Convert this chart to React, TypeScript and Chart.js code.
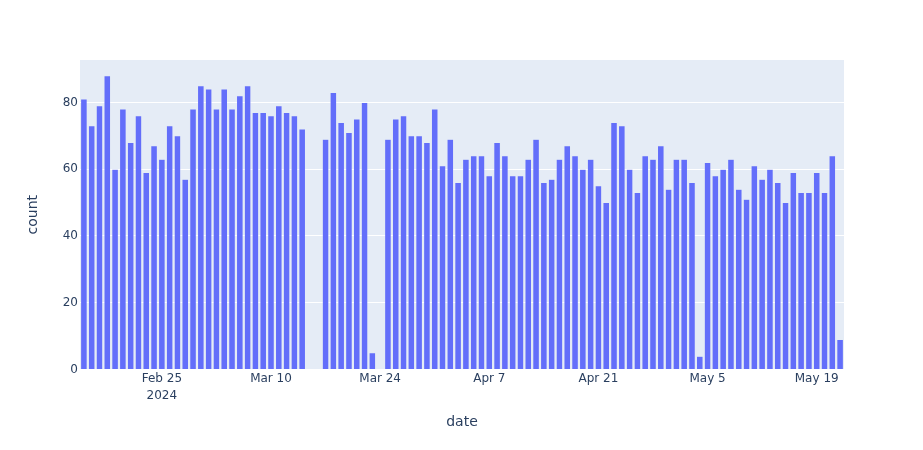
import React, { useEffect, useRef } from "react";
import { Chart, registerables } from "chart.js";

Chart.register(...registerables);

const startDate = "2024-02-15";

const dates: string[] = [
  "2024-02-15", "2024-02-16", "2024-02-17", "2024-02-18", "2024-02-19", "2024-02-20", "2024-02-21",
  "2024-02-22", "2024-02-23", "2024-02-24", "2024-02-25", "2024-02-26", "2024-02-27", "2024-02-28",
  "2024-02-29", "2024-03-01", "2024-03-02", "2024-03-03", "2024-03-04", "2024-03-05", "2024-03-06",
  "2024-03-07", "2024-03-08", "2024-03-09", "2024-03-10", "2024-03-11", "2024-03-12", "2024-03-13",
  "2024-03-14",
  "2024-03-17", "2024-03-18", "2024-03-19", "2024-03-20", "2024-03-21", "2024-03-22", "2024-03-23",
  "2024-03-25", "2024-03-26", "2024-03-27", "2024-03-28", "2024-03-29", "2024-03-30", "2024-03-31",
  "2024-04-01", "2024-04-02", "2024-04-03", "2024-04-04", "2024-04-05", "2024-04-06", "2024-04-07",
  "2024-04-08", "2024-04-09", "2024-04-10", "2024-04-11", "2024-04-12", "2024-04-13", "2024-04-14",
  "2024-04-15", "2024-04-16", "2024-04-17", "2024-04-18", "2024-04-19", "2024-04-20", "2024-04-21",
  "2024-04-22", "2024-04-23", "2024-04-24", "2024-04-25", "2024-04-26", "2024-04-27", "2024-04-28",
  "2024-04-29", "2024-04-30", "2024-05-01", "2024-05-02", "2024-05-03", "2024-05-04", "2024-05-05",
  "2024-05-06", "2024-05-07", "2024-05-08", "2024-05-09", "2024-05-10", "2024-05-11", "2024-05-12",
  "2024-05-13", "2024-05-14", "2024-05-15", "2024-05-16", "2024-05-17", "2024-05-18", "2024-05-19",
  "2024-05-20", "2024-05-21", "2024-05-22",
];

const counts: number[] = [
  81, 73, 79, 88, 60, 78, 68,
  76, 59, 67, 63, 73, 70, 57,
  78, 85, 84, 78, 84, 78, 82,
  85, 77, 77, 76, 79, 77, 76,
  72,
  69, 83, 74, 71, 75, 80, 5,
  69, 75, 76, 70, 70, 68, 78,
  61, 69, 56, 63, 64, 64, 58,
  68, 64, 58, 58, 63, 69, 56,
  57, 63, 67, 64, 60, 63, 55,
  50, 74, 73, 60, 53, 64, 63,
  67, 54, 63, 63, 56, 4, 62,
  58, 60, 63, 54, 51, 61, 57,
  60, 56, 50, 59, 53, 53, 59,
  53, 64, 9,
];

const xTickDates: string[] = [
  "2024-02-25", "2024-03-10", "2024-03-24", "2024-04-07", "2024-04-21", "2024-05-05", "2024-05-19",
];
const yTicks: number[] = [0, 20, 40, 60, 80];
const rangeStart = "2024-02-14T12:00";
const rangeEnd = "2024-05-22T12:00";
const yMax = 92.7;

const MONTHS = ["Jan", "Feb", "Mar", "Apr", "May", "Jun", "Jul", "Aug", "Sep", "Oct", "Nov", "Dec"];

function dayOffset(s: string): number {
  const [d, t] = s.split("T");
  const [y, m, dd] = d.split("-").map(Number);
  const [hh, mm] = (t || "00:00").split(":").map(Number);
  const [sy, sm, sd] = startDate.split("-").map(Number);
  return (Date.UTC(y, m - 1, dd, hh, mm) - Date.UTC(sy, sm - 1, sd)) / 86400000;
}

function labelFor(offset: number, first: boolean): string | string[] {
  const [sy, sm, sd] = startDate.split("-").map(Number);
  const dt = new Date(Date.UTC(sy, sm - 1, sd) + Math.round(offset) * 86400000);
  const txt = `${MONTHS[dt.getUTCMonth()]} ${dt.getUTCDate()}`;
  return first ? [txt, String(dt.getUTCFullYear())] : txt;
}

const FONT = "'DejaVu Sans', Verdana, sans-serif";
const TEXT = "#2a3f5f";

export default function App() {
  const ref = useRef<HTMLCanvasElement | null>(null);

  useEffect(() => {
    if (!ref.current) return;
    const bgPlugin = {
      id: "plotBg",
      beforeDraw(chart: any) {
        const { ctx, chartArea } = chart;
        ctx.save();
        ctx.fillStyle = "#e5ecf6";
        ctx.fillRect(chartArea.left, chartArea.top, chartArea.right - chartArea.left, chartArea.bottom - chartArea.top);
        ctx.restore();
      },
    };
    const chart = new Chart(ref.current, {
      type: "bar",
      data: {
        datasets: [
          {
            label: "count",
            data: dates.map((d, i) => ({ x: dayOffset(d), y: counts[i] })),
            backgroundColor: "#636efa",
            borderColor: "rgba(229,236,246,0.55)",
            borderWidth: 0.5,
            barPercentage: 0.84,
            categoryPercentage: 1,
          },
        ],
      },
      options: {
        responsive: false,
        animation: false,
        layout: { padding: { top: 60, right: 79, left: 0, bottom: 0 } },
        plugins: { legend: { display: false }, tooltip: { enabled: false } },
        scales: {
          x: {
            type: "linear",
            min: dayOffset(rangeStart),
            max: dayOffset(rangeEnd),
            offset: false,
            grid: { display: false, drawTicks: false },
            border: { display: false },
            afterBuildTicks: (scale: any) => {
              scale.ticks = xTickDates.map((d) => ({ value: dayOffset(d) }));
            },
            afterFit: (scale: any) => {
              scale.height = 80.5;
            },
            ticks: {
              autoSkip: false,
              maxRotation: 0,
              padding: 1,
              color: TEXT,
              font: { family: FONT, size: 12, lineHeight: 1.4 },
              callback: (value: any, index: number) => labelFor(Number(value), index === 0),
            },
            title: {
              display: true,
              text: "date",
              color: TEXT,
              font: { family: FONT, size: 14, lineHeight: 1.2 },
              padding: { top: 0, bottom: 19.6 },
            },
          },
          y: {
            min: 0,
            max: yMax,
            grid: { color: "#ffffff", lineWidth: 1, drawTicks: false },
            border: { display: false },
            afterBuildTicks: (scale: any) => {
              scale.ticks = yTicks.map((v) => ({ value: v }));
            },
            afterFit: (scale: any) => {
              scale.width = 80;
            },
            ticks: {
              padding: 2,
              color: TEXT,
              font: { family: FONT, size: 12 },
            },
            title: {
              display: true,
              text: "count",
              color: TEXT,
              font: { family: FONT, size: 14, lineHeight: 1.2 },
              padding: { top: 24.6, bottom: 0 },
            },
          },
        },
      },
      plugins: [bgPlugin],
    } as any);
    return () => chart.destroy();
  }, []);

  return (
    <div style={{ position: "absolute", left: 0, top: 0, width: 923, height: 450, background: "#ffffff" }}>
      <canvas ref={ref} width={923} height={450} style={{ display: "block", width: 923, height: 450 }} />
    </div>
  );
}
